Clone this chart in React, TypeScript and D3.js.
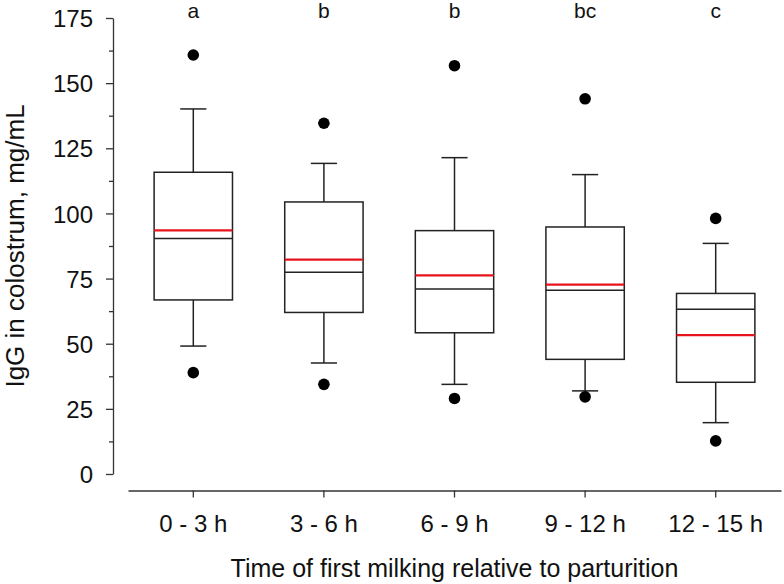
import { useEffect, useRef } from 'react';
import * as d3 from 'd3';

const WIDTH = 784;
const HEIGHT = 584;

const groups = ['0 - 3 h', '3 - 6 h', '6 - 9 h', '9 - 12 h', '12 - 15 h'];
const letters = ['a', 'b', 'b', 'bc', 'c'];
const whiskerLow = [49.1, 42.6, 34.4, 31.9, 19.7];
const q1 = [66.8, 62.0, 54.2, 44.0, 35.2];
const median = [90.4, 77.4, 71.0, 70.5, 63.2];
const q3 = [115.8, 104.4, 93.4, 94.8, 69.3];
const whiskerHigh = [140.1, 119.2, 121.4, 114.9, 88.5];
const means = [93.5, 82.3, 76.2, 72.7, 53.3];
const outlierLow = [38.9, 34.4, 29.0, 29.6, 12.7];
const outlierHigh = [160.8, 134.6, 156.7, 144.0, 98.1];
const yTicks = [0, 25, 50, 75, 100, 125, 150, 175];
const yMinorTicks = [12.5, 37.5, 62.5, 87.5, 112.5, 137.5, 162.5];

const FONT = '"Liberation Sans", Arial, sans-serif';

export default function App() {
  const svgRef = useRef<SVGSVGElement | null>(null);

  useEffect(() => {
    if (!svgRef.current) return;
    const svg = d3.select(svgRef.current);
    svg.selectAll('*').remove();

    const y = d3.scaleLinear().domain([0, 175]).range([474, 18]);
    const x = d3.scaleBand<string>().domain(groups).range([128, 781]).padding(0);
    const bw = x.bandwidth();
    const boxW = bw * 0.6;
    const capW = bw * 0.2;
    const cx = (i: number) => (x(groups[i]) ?? 0) + bw / 2;
    const idx = d3.range(groups.length);

    // y axis
    const yAxis = svg
      .append('g')
      .attr('transform', 'translate(113,0)')
      .call(d3.axisLeft(y).tickValues(yTicks).tickSize(7).tickSizeOuter(0).tickPadding(13));
    yAxis.selectAll('line').attr('stroke', '#333').attr('stroke-width', 1.3);
    yAxis.select('.domain').attr('stroke', '#333').attr('stroke-width', 1.3);
    yAxis
      .selectAll('text')
      .attr('font-family', FONT)
      .attr('font-size', 24)
      .attr('fill', '#111')
      .attr('dy', '0.36em');

    const yMinor = svg
      .append('g')
      .attr('transform', 'translate(113,0)')
      .call(d3.axisLeft(y).tickValues(yMinorTicks).tickSize(4).tickSizeOuter(0).tickFormat(() => ''));
    yMinor.select('.domain').remove();
    yMinor.selectAll('line').attr('stroke', '#333').attr('stroke-width', 1.3);

    // x axis
    const xAxis = svg
      .append('g')
      .attr('transform', 'translate(0,490.5)')
      .call(d3.axisBottom(x).tickSize(7).tickSizeOuter(0));
    xAxis.selectAll('line').attr('stroke', '#333').attr('stroke-width', 1.3);
    xAxis.select('.domain').attr('stroke', '#333').attr('stroke-width', 1.3);
    xAxis
      .selectAll('text')
      .attr('font-family', FONT)
      .attr('font-size', 24)
      .attr('fill', '#111')
      .attr('y', 41)
      .attr('dy', 0);

    // axis titles
    svg
      .append('text')
      .attr('x', (128 + 781) / 2)
      .attr('y', 576.5)
      .attr('text-anchor', 'middle')
      .attr('font-family', FONT)
      .attr('font-size', 25)
      .attr('fill', '#111')
      .text('Time of first milking relative to parturition');

    svg
      .append('text')
      .attr('transform', 'translate(23.5,246) rotate(-90)')
      .attr('text-anchor', 'middle')
      .attr('font-family', FONT)
      .attr('font-size', 26)
      .attr('fill', '#111')
      .text('IgG in colostrum, mg/mL');

    const g = svg.append('g');

    // whiskers
    g.selectAll('line.wh-up')
      .data(idx)
      .enter()
      .append('line')
      .attr('x1', cx)
      .attr('x2', cx)
      .attr('y1', (i) => y(q3[i]))
      .attr('y2', (i) => y(whiskerHigh[i]))
      .attr('stroke', '#222')
      .attr('stroke-width', 1.5);
    g.selectAll('line.wh-lo')
      .data(idx)
      .enter()
      .append('line')
      .attr('x1', cx)
      .attr('x2', cx)
      .attr('y1', (i) => y(q1[i]))
      .attr('y2', (i) => y(whiskerLow[i]))
      .attr('stroke', '#222')
      .attr('stroke-width', 1.5);

    // caps
    const caps = idx.flatMap((i) => [
      { i, v: whiskerHigh[i] },
      { i, v: whiskerLow[i] },
    ]);
    g.selectAll('line.cap')
      .data(caps)
      .enter()
      .append('line')
      .attr('x1', (d) => cx(d.i) - capW / 2)
      .attr('x2', (d) => cx(d.i) + capW / 2)
      .attr('y1', (d) => y(d.v))
      .attr('y2', (d) => y(d.v))
      .attr('stroke', '#222')
      .attr('stroke-width', 1.5);

    // boxes
    g.selectAll('rect')
      .data(idx)
      .enter()
      .append('rect')
      .attr('x', (i) => cx(i) - boxW / 2)
      .attr('y', (i) => y(q3[i]))
      .attr('width', boxW)
      .attr('height', (i) => y(q1[i]) - y(q3[i]))
      .attr('fill', 'none')
      .attr('stroke', '#222')
      .attr('stroke-width', 1.5);

    // medians
    g.selectAll('line.med')
      .data(idx)
      .enter()
      .append('line')
      .attr('x1', (i) => cx(i) - boxW / 2)
      .attr('x2', (i) => cx(i) + boxW / 2)
      .attr('y1', (i) => y(median[i]))
      .attr('y2', (i) => y(median[i]))
      .attr('stroke', '#222')
      .attr('stroke-width', 1.5);

    // means
    g.selectAll('line.mean')
      .data(idx)
      .enter()
      .append('line')
      .attr('x1', (i) => cx(i) - boxW / 2)
      .attr('x2', (i) => cx(i) + boxW / 2)
      .attr('y1', (i) => y(means[i]))
      .attr('y2', (i) => y(means[i]))
      .attr('stroke', '#e8141c')
      .attr('stroke-width', 2.2);

    // outliers
    const dots = idx.flatMap((i) => [
      { i, v: outlierHigh[i] },
      { i, v: outlierLow[i] },
    ]);
    g.selectAll('circle')
      .data(dots)
      .enter()
      .append('circle')
      .attr('cx', (d) => cx(d.i))
      .attr('cy', (d) => y(d.v))
      .attr('r', 5.8)
      .attr('fill', '#000');

    // significance letters
    g.selectAll('text.letter')
      .data(idx)
      .enter()
      .append('text')
      .attr('x', cx)
      .attr('y', 18)
      .attr('text-anchor', 'middle')
      .attr('font-family', FONT)
      .attr('font-size', 21)
      .attr('fill', '#111')
      .text((i) => letters[i]);
  }, []);

  return (
    <svg
      ref={svgRef}
      width={WIDTH}
      height={HEIGHT}
      viewBox={`0 0 ${WIDTH} ${HEIGHT}`}
      style={{ position: 'absolute', left: 0, top: 0, background: '#fff' }}
    />
  );
}
